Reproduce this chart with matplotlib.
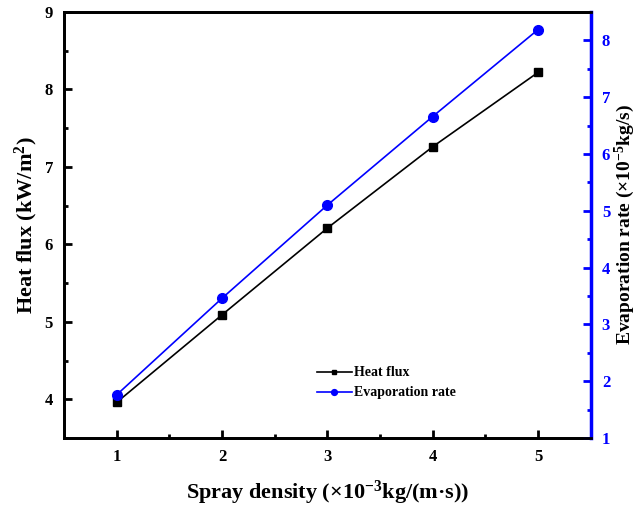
import matplotlib.pyplot as plt
import numpy as np

plt.rcParams['font.family'] = 'Liberation Serif'
plt.rcParams['font.weight'] = 'bold'
plt.rcParams['mathtext.fontset'] = 'custom'
plt.rcParams['mathtext.rm'] = 'Liberation Serif:bold'
plt.rcParams['mathtext.default'] = 'rm'

# data
spray = [1, 2, 3, 4, 5]
heat_flux = [3.96, 5.09, 6.21, 7.26, 8.22]
evap_rate = [1.76, 3.46, 5.10, 6.66, 8.19]

fig = plt.figure(figsize=(6.38, 5.08), dpi=100)
ax = fig.add_axes([64/638, 1-438/508, (590.7-64)/638, (438-12)/508])
ax2 = ax.twinx()

l1, = ax.plot(spray, heat_flux, color='black', linewidth=1.2, marker='s', markersize=6)
l2, = ax2.plot(spray, evap_rate, color='blue', linewidth=1.2, marker='o', markersize=7)

ax.set_xlim(0.5, 5.5)
ax.set_ylim(3.5, 9)
ax2.set_ylim(1, 8.5)
ax.set_xticks([1, 2, 3, 4, 5])
ax.set_xticks(np.arange(1.5, 5.5, 1), minor=True)
ax.set_yticks([4, 5, 6, 7, 8, 9])
ax.set_yticks(np.arange(3.5, 9, 1), minor=True)
ax2.set_yticks([1, 2, 3, 4, 5, 6, 7, 8])
ax2.set_yticks(np.arange(1.5, 8.5, 1), minor=True)

ax.tick_params(axis='both', which='major', direction='in', length=6, width=2, labelsize=12, pad=8)
ax.tick_params(axis='both', which='minor', direction='in', length=3, width=2)
ax.tick_params(axis='y', right=False)
ax2.tick_params(axis='y', which='major', direction='in', length=6, width=2, labelsize=12,
                colors='blue', pad=8)
ax2.tick_params(axis='y', which='minor', direction='in', length=3, width=2, colors='blue')

for s in ['left', 'bottom', 'top']:
    ax.spines[s].set_linewidth(2)
    ax2.spines[s].set_linewidth(2)
ax2.spines['right'].set_linewidth(2.5)
ax2.spines['right'].set_color('blue')
ax.spines['right'].set_visible(False)

ax.set_xlabel(r'Spray density (×10$^{-3}$kg/(m·s))', fontsize=16, fontweight='bold', labelpad=10)
ax.set_ylabel(r'Heat flux (kW/m$^{2}$)', fontsize=16, fontweight='bold', labelpad=3)
ax2.set_ylabel(r'Evaporation rate (×10$^{-5}$kg/s)', fontsize=14, fontweight='bold',
               rotation=90, labelpad=2)

ax.legend([l1, l2], ['Heat flux', 'Evaporation rate'], loc='upper left',
          bbox_to_anchor=(0.48, 0.168), frameon=False, borderpad=0, borderaxespad=0,
          handlelength=2.5, handletextpad=0.15, labelspacing=0.5, markerscale=0.6,
          prop={'family': 'Liberation Serif', 'weight': 'bold', 'size': 10})

plt.savefig('out.png', dpi=100)
